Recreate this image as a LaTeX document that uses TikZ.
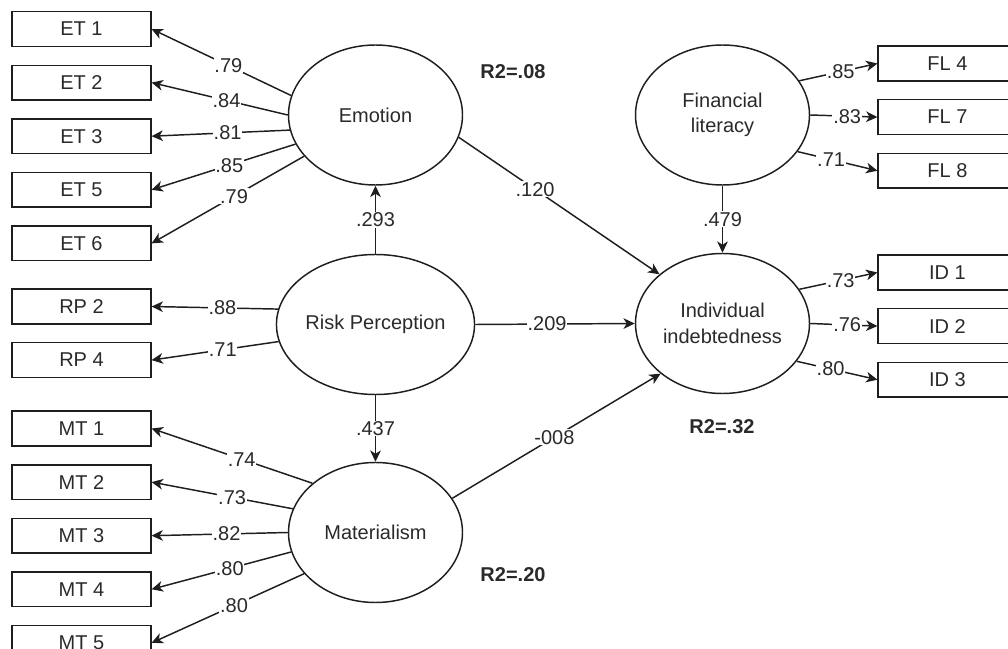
\documentclass[tikz,border=0pt]{standalone}
\usepackage{fontspec}
\setmainfont{Liberation Sans}
\usepackage{tikz}
\usetikzlibrary{arrows.meta,positioning,shapes.geometric}
\usepackage{xcolor}
\definecolor{pen}{HTML}{1E1E1E}
\definecolor{txt}{HTML}{2A2A2A}
\tikzset{
  >={Stealth[length=8.5pt,width=8pt,inset=2.5pt]},
  every node/.style={font=\fontsize{15}{19}\selectfont,text=txt},
  item/.style={draw=pen,line width=1.1pt,minimum width=104pt,minimum height=26pt,inner sep=0pt},
  latent/.style={draw=pen,line width=1.1pt,ellipse,minimum width=130.5pt,minimum height=105pt,inner sep=0pt,align=center},
  loading/.style={->,line width=1.1pt,draw=pen},
  effect/.style={loading},
  coef/.style={fill=white,inner sep=0.6pt},
  rsq/.style={font=\fontsize{15}{19}\selectfont\bfseries},
}

\begin{document}
\begin{tikzpicture}[x=0.75pt,y=-0.75pt,node distance=13.1pt]
\useasboundingbox (0,0) rectangle (1008,649);
\clip (0,0) rectangle (1008,649);
% latent variables
\node[latent] (emo) at (375.5,115) {Emotion};
\node[latent] (rp) at (375.5,324.5) {Risk Perception};
\node[latent] (mat) at (375.5,532.5) {Materialism};
\node[latent] (fl) at (722.5,115) {Financial\\literacy};
\node[latent] (ind) at (722.5,323.5) {Individual\\indebtedness};
% indicators, left
\node[item] (et1) at (81.5,29) {ET 1};
\node[item,below=of et1] (et2) {ET 2};
\node[item,below=of et2] (et3) {ET 3};
\node[item,below=of et3] (et5) {ET 5};
\node[item,below=of et5] (et6) {ET 6};
\node[item] (rp2) at (81.5,306.5) {RP 2};
\node[item,below=of rp2] (rp4) {RP 4};
\node[item] (mt1) at (81.5,428.5) {MT 1};
\node[item,below=of mt1] (mt2) {MT 2};
\node[item,below=of mt2] (mt3) {MT 3};
\node[item,below=of mt3] (mt4) {MT 4};
\node[item,below=of mt4] (mt5) {MT 5};
% indicators, right
\node[item] (fl4) at (947.5,63.5) {FL 4};
\node[item,below=of fl4] (fl7) {FL 7};
\node[item,below=of fl7] (fl8) {FL 8};
\node[item] (id1) at (947.5,272.5) {ID 1};
\node[item,below=of id1] (id2) {ID 2};
\node[item,below=of id2] (id3) {ID 3};
% explained variance
\node[rsq] (r2emo) at (513,72) {R2=.08};
\node[rsq] (r2mat) at (513,575) {R2=.20};
\node[rsq] (r2ind) at (722,427) {R2=.32};
% loadings
\draw[loading] (emo.167) -- node[coef,pos=.45]{.79} (et1.east);
\draw[loading] (emo.180) -- node[coef,pos=.45]{.84} (et2.east);
\draw[loading] (emo.190) -- node[coef,pos=.45]{.81} (et3.east);
\draw[loading] (emo.200) -- node[coef,pos=.46]{.85} (et5.east);
\draw[loading] (emo.210) -- node[coef,pos=.46]{.79} (et6.east);
\draw[loading] (rp.171) -- node[coef,pos=.44]{.88} (rp2.east);
\draw[loading] (rp.190) -- node[coef,pos=.44]{.71} (rp4.east);
\draw[loading] (mat.142) -- node[coef,pos=.44]{.74} (mt1.east);
\draw[loading] (mat.164) -- node[coef,pos=.43]{.73} (mt2.east);
\draw[loading] (mat.180) -- node[coef,pos=.45]{.82} (mt3.east);
\draw[loading] (mat.193) -- node[coef,pos=.44]{.80} (mt4.east);
\draw[loading] (mat.210) -- node[coef,pos=.46]{.80} (mt5.east);
\draw[loading] (fl.24) -- node[coef,pos=.53]{.85} (fl4.west);
\draw[loading] (fl.east) -- node[coef,pos=.55]{.83} (fl7.west);
\draw[loading] (fl.-26) -- node[coef,pos=.42]{.71} (fl8.west);
\draw[loading] (ind.24) -- node[coef,pos=.53]{.73} (id1.west);
\draw[loading] (ind.east) -- node[coef,pos=.55]{.76} (id2.west);
\draw[loading] (ind.-27) -- node[coef,pos=.42]{.80} (id3.west);
% structural paths
\draw[effect] (rp.north) -- node[coef]{.293} (emo.south);
\draw[effect] (rp.south) -- node[coef]{.437} (mat.north);
\draw[effect] (emo.-15) -- node[coef,pos=.38]{.120} (ind.142);
\draw[effect] (rp.east) -- node[coef,pos=.45]{.209} (ind.west);
\draw[effect] (mat.24) -- node[coef,pos=.49]{-008} (ind.219.5);
\draw[effect] (fl.south) -- node[coef]{.479} (ind.north);
\end{tikzpicture}
\end{document}
